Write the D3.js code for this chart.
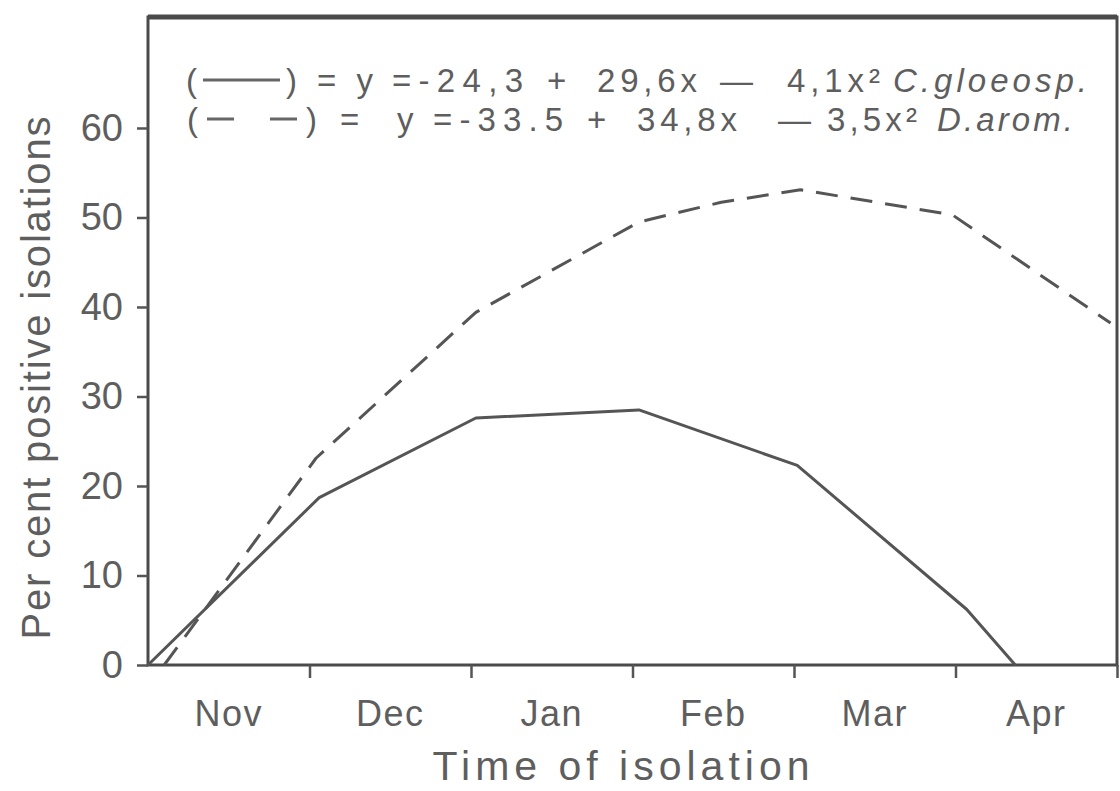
<!DOCTYPE html>
<html>
<head>
<meta charset="utf-8">
<script src="https://cdn.jsdelivr.net/npm/d3@7"></script>
<style>
  body { margin: 0; background: #fff; }
  svg { display: block; }
  text { font-family: "Liberation Sans", Arial, Helvetica, sans-serif; fill: #5e5e5e; }
</style>
</head>
<body>
<svg id="chart" width="1120" height="791"></svg>
<script>
/*Data*/
var months = ["Nov", "Dec", "Jan", "Feb", "Mar", "Apr"];
var yTicks = [0, 10, 20, 30, 40, 50, 60];

//C. gloeosp. (solid)
var gloeoX = [0, 1.06, 2.03, 3.04, 4.02, 5.07, 5.37];
var gloeoY = [0, 18.7, 27.6, 28.5, 22.3, 6.2, 0];

//D. arom. (dashed)
var aromX = [0.1, 1.04, 2.03, 3.04, 3.55, 4.04, 4.98, 5.96];
var aromY = [0, 23.1, 39.4, 49.5, 51.7, 53.1, 50.3, 38.2];

var xLabel = "Time of isolation";
var yLabel = "Per cent positive isolations";

/*Scales*/
var svg = d3.select("#chart");
var x = d3.scaleLinear().domain([0, 6]).range([148, 1117]);
var y = d3.scaleLinear().domain([0, 72.4]).range([665, 17]);

var ink = "#555";

//Frame
svg.append("rect")
  .attr("x", x(0)).attr("y", y(72.4))
  .attr("width", x(6) - x(0)).attr("height", y(0) - y(72.4))
  .attr("fill", "none").attr("stroke", "#4a4a4a").attr("stroke-width", 3);
svg.append("line")
  .attr("x1", x(0)).attr("x2", x(6))
  .attr("y1", y(72.4)).attr("y2", y(72.4))
  .attr("stroke", "#4a4a4a").attr("stroke-width", 5);

//Axes (ticks only, the frame is the axis line)
var yAxis = svg.append("g")
  .attr("transform", "translate(" + x(0) + ",0)")
  .call(d3.axisLeft(y).tickValues(yTicks).tickSize(11).tickPadding(14));
yAxis.select(".domain").remove();
yAxis.selectAll("line").attr("stroke", ink).attr("stroke-width", 2.5);
yAxis.selectAll("text")
  .style("font-size", "38px").attr("fill", "#5e5e5e")
  .attr("font-family", null);

var xAxis = svg.append("g")
  .attr("transform", "translate(0," + y(0) + ")")
  .call(d3.axisBottom(x).tickValues([1, 2, 3, 4, 5, 6]).tickSize(13).tickFormat(""));
xAxis.select(".domain").remove();
xAxis.selectAll("line").attr("stroke", ink).attr("stroke-width", 2.5);

//Month labels sit between the ticks
svg.append("g").selectAll("text")
  .data(months)
  .enter().append("text")
  .attr("x", function(d, i) { return x(i + 0.5); })
  .attr("y", 726)
  .attr("text-anchor", "middle")
  .style("font-size", "36px")
  .style("letter-spacing", "1.5px")
  .text(function(d) { return d; });

//Axis titles
svg.append("text")
  .attr("x", 621).attr("y", 780)
  .attr("text-anchor", "middle")
  .attr("textLength", 377)
  .style("font-size", "41px")
  .text(xLabel);

svg.append("text")
  .attr("transform", "translate(50,378) rotate(-90)")
  .attr("text-anchor", "middle")
  .attr("textLength", 523)
  .style("font-size", "40px")
  .text(yLabel);

/*Lines*/
function toPoints(xs, ys) {
  var pts = [];
  for (var i = 0; i < xs.length; i++) {
    pts.push([xs[i], ys[i]]);
  }
  return pts;
}

var line = d3.line()
  .x(function(d) { return x(d[0]); })
  .y(function(d) { return y(d[1]); });

svg.append("path")
  .datum(toPoints(gloeoX, gloeoY))
  .attr("d", line)
  .attr("fill", "none").attr("stroke", ink).attr("stroke-width", 3)
  .attr("stroke-linejoin", "round");

svg.append("path")
  .datum(toPoints(aromX, aromY))
  .attr("d", line)
  .attr("fill", "none").attr("stroke", ink).attr("stroke-width", 3)
  .attr("stroke-dasharray", "22,13")
  .attr("stroke-linejoin", "round");

/*Legend (equations), laid out token by token like the original print*/
var legend = svg.append("g").style("font-size", "33px");

function token(str, x0, x1, yy, italic) {
  var t = legend.append("text").attr("x", x0).attr("y", yy).text(str);
  if (x1) t.attr("textLength", x1 - x0);
  if (italic) t.style("font-style", "italic");
  return t;
}

//Line 1: C. gloeosp.
token("(", 186, null, 92);
legend.append("line")
  .attr("x1", 203).attr("x2", 280).attr("y1", 80).attr("y2", 80)
  .attr("stroke", "#666").attr("stroke-width", 3);
token(")", 286, null, 92);
token("=y", 317, 373, 92);
token("=-24,3", 392, 523, 92);
token("+", 547, null, 92);
token("29,6x", 597, 697, 92);
token("—", 720, 757, 92);
token("4,1x\u00b2", 787, 880, 92);
token("C.gloeosp.", 893, 1087, 92, true);

//Line 2: D. arom.
token("(", 187, null, 131);
legend.append("line")
  .attr("x1", 207).attr("x2", 300).attr("y1", 119).attr("y2", 119)
  .attr("stroke", "#666").attr("stroke-width", 3)
  .attr("stroke-dasharray", "27,36");
token(")", 306, null, 131);
token("=", 340, null, 131);
token("y", 397, null, 131);
token("=-33.5", 433, 563, 131);
token("+", 587, null, 131);
token("34,8x", 637, 737, 131);
token("—", 778, 805, 131);
token("3,5x\u00b2", 827, 917, 131);
token("D.arom.", 937, 1073, 131, true);
</script>
</body>
</html>
